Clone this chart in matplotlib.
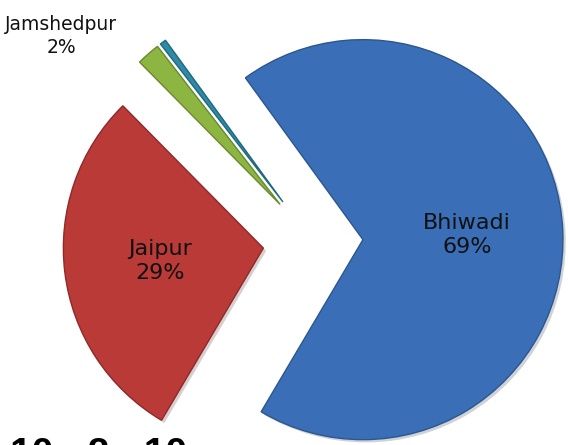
import matplotlib
matplotlib.use("Agg")
import matplotlib.pyplot as plt
import matplotlib.patheffects as pe

# Share of units by location (%)
locations = ["Bhiwadi", "Jaipur", "Jamshedpur", "Other"]
shares = [68.5, 29.1, 1.9, 0.5]
pct_labels = ["69%", "29%", "2%", ""]
colors = ["#3a6fb8", "#b93a37", "#8db542", "#2f8aa6"]
edges = ["#2b568f", "#8e2a29", "#6a8a2f", "#1f6a80"]
footer = "10 - 2 - 10"

W, H = 568, 445

fig = plt.figure(figsize=(W / 100, H / 100), dpi=100)
ax = fig.add_axes([0, 0, 1, 1])

labels = [f"{n}\n{p}" if p else "" for n, p in zip(locations, pct_labels)]
wedges, texts = ax.pie(
    shares,
    labels=labels,
    colors=colors,
    startangle=126,
    counterclock=False,
    radius=200,
    center=(313, 203),
    explode=[50] * len(shares),
    labeldistance=0.52,
    textprops=dict(ha="center", va="center", multialignment="center",
                   fontsize=16, color="#111111", linespacing=1.25),
    wedgeprops=dict(linewidth=1.0),
)
for w, ec in zip(wedges, edges):
    w.set_edgecolor(ec)
    w.set_path_effects([pe.SimplePatchShadow(offset=(2, -2), alpha=0.2),
                        pe.Normal()])

# Jamshedpur label sits outside the slice, top left
texts[2].set_position((61, H - 36))
texts[2].set_fontsize(13.5)

# footer text is cut by the bottom edge, as in the original slide
ax.text(10, H - 437, footer, fontsize=28, fontweight="bold", color="black",
        family=["Liberation Sans", "DejaVu Sans"], ha="left", va="top")

ax.set_xlim(0, W)
ax.set_ylim(0, H)
ax.set_aspect("equal")
ax.axis("off")

fig.savefig("out.png", dpi=100)
